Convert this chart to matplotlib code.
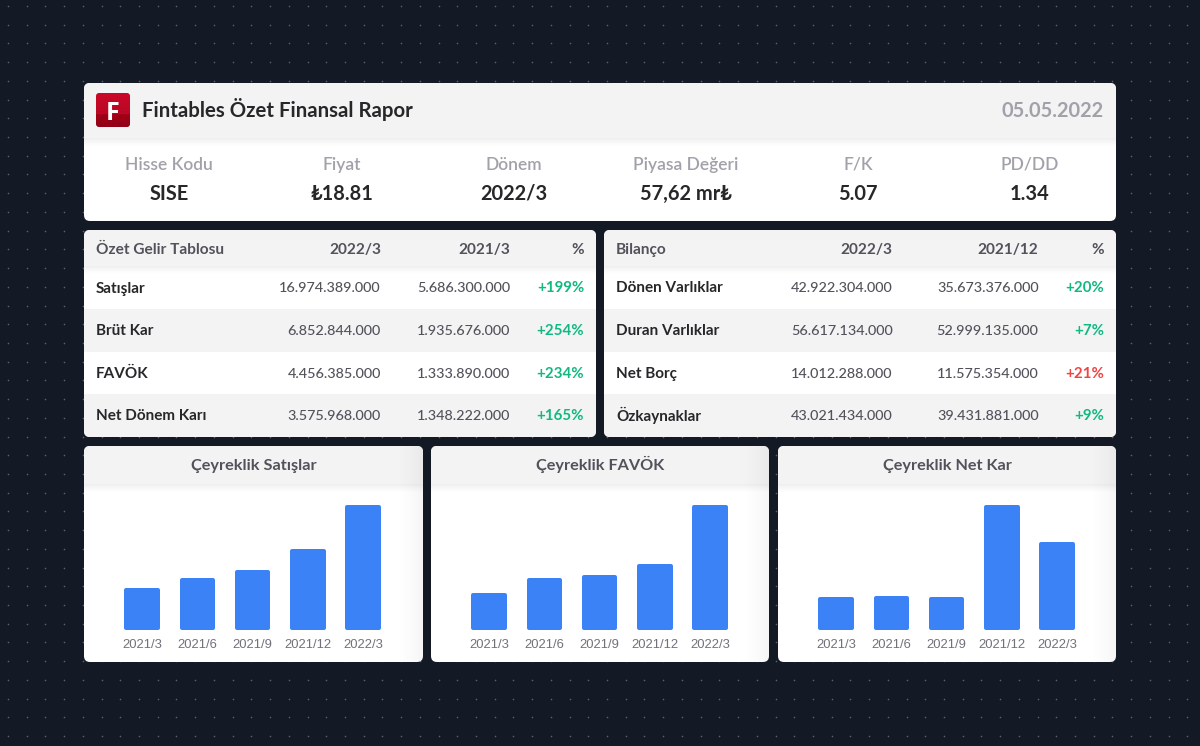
import numpy as np
import matplotlib
matplotlib.use("Agg")
import matplotlib.pyplot as plt
from matplotlib.patches import FancyBboxPatch, Rectangle

FONT = ['Lato', 'DejaVu Sans']
ARIAL = ['Liberation Sans', 'DejaVu Sans']

summary_labels = ["Hisse Kodu", "Fiyat", "Dönem", "Piyasa Değeri", "F/K", "PD/DD"]
summary_values = ["SISE", "₺18.81", "2022/3", "57,62 mr₺", "5.07", "1.34"]

income_headers = ["Özet Gelir Tablosu", "2022/3", "2021/3", "%"]
income_items = ["Satışlar", "Brüt Kar", "FAVÖK", "Net Dönem Karı"]
income_cur = ["16.974.389.000", "6.852.844.000", "4.456.385.000", "3.575.968.000"]
income_prev = ["5.686.300.000", "1.935.676.000", "1.333.890.000", "1.348.222.000"]
income_pct = ["+199%", "+254%", "+234%", "+165%"]

balance_headers = ["Bilanço", "2022/3", "2021/12", "%"]
balance_items = ["Dönen Varlıklar", "Duran Varlıklar", "Net Borç", "Özkaynaklar"]
balance_cur = ["42.922.304.000", "56.617.134.000", "14.012.288.000", "43.021.434.000"]
balance_prev = ["35.673.376.000", "52.999.135.000", "11.575.354.000", "39.431.881.000"]
balance_pct = ["+20%", "+7%", "+21%", "+9%"]
balance_pct_colors = ["#10b981", "#10b981", "#ef4444", "#10b981"]

quarters = ["2021/3", "2021/6", "2021/9", "2021/12", "2022/3"]
sales = [5686, 7060, 8150, 11000, 16974]
ebitda = [1334, 1855, 1960, 2350, 4456]
net_income = [1348, 1390, 1350, 5107, 3576]

BG = "#141926"
HEAD = "#f3f3f4"
ROW = "#f3f3f4"
DARK = "#27272a"
MID = "#52525b"
LIGHT = "#a1a1aa"
GREEN = "#10b981"
BLUE = "#3b82f6"

W, H = 1200, 746
fig = plt.figure(figsize=(W / 100, H / 100), dpi=100, facecolor=BG)
bg = fig.add_axes([0, 0, 1, 1])
bg.set_xlim(0, W)
bg.set_ylim(H, 0)
bg.axis("off")

px = lambda s: s * 0.72

dx = np.arange(8, W, 18.72)
dy = np.arange(6, H, 18.72)
gx, gy = np.meshgrid(dx, dy)
bg.scatter(gx.ravel(), gy.ravel(), s=1.4, c="#5a6070", linewidths=0, zorder=0)


def card(x0, y0, x1, y1, r=6):
    p = FancyBboxPatch((x0 + r, y0 + r), x1 - x0 - 2 * r, y1 - y0 - 2 * r,
                       boxstyle=f"round,pad={r},rounding_size={r}",
                       fc="white", ec="none", zorder=1)
    bg.add_patch(p)
    return p


def fill(x0, y0, x1, y1, color, clip, z=2):
    r = Rectangle((x0, y0), x1 - x0, y1 - y0, fc=color, ec="none", zorder=z)
    bg.add_patch(r)
    r.set_clip_path(clip)


def gradient(x0, y0, x1, y1, clip, amax=0.09, horizontal=False, z=3):
    n = 32
    ramp = np.linspace(amax, 0, n) ** 1.5 / amax ** 0.5
    if horizontal:
        a = ramp[::-1].reshape(1, n)
    else:
        a = ramp.reshape(n, 1)
    img = np.zeros(a.shape + (4,))
    img[..., 3] = a
    im = bg.imshow(img, extent=(x0, x1, y1, y0), aspect="auto", zorder=z,
                   interpolation="bilinear")
    im.set_clip_path(clip)
    bg.set_xlim(0, W)
    bg.set_ylim(H, 0)


def t(x, y, s, size, color, weight="normal", ha="left", family=FONT):
    bg.text(x, y, s, fontsize=px(size), color=color, fontweight=weight, ha=ha,
            va="baseline", family=family, zorder=6)


# ---- top card
top = card(84, 83, 1116, 221)
fill(84, 83, 1116, 138, HEAD, top)
gradient(84, 138, 1116, 148, top, 0.07)

# logo
logo = FancyBboxPatch((99, 96), 28, 28, boxstyle="round,pad=3,rounding_size=3",
                      fc="none", ec="none", zorder=4)
bg.add_patch(logo)
c = np.zeros((64, 1, 3))
stops_t = np.linspace(0, 1, 64)
c[:, 0, 0] = np.where(stops_t < 0.62, 0.80 - 0.12 * stops_t, 0.64 - 0.20 * (stops_t - 0.62))
c[:, 0, 1] = np.where(stops_t < 0.62, 0.03, 0.0)
c[:, 0, 2] = np.where(stops_t < 0.62, 0.15, 0.09)
im = bg.imshow(c, extent=(96, 130, 127, 93), aspect="auto", zorder=4)
im.set_clip_path(logo)
bg.set_xlim(0, W)
bg.set_ylim(H, 0)
t(113, 119.5, "F", 25, "white", "bold", "center", ['Open Sans', 'DejaVu Sans'])

t(142, 117, "Fintables Özet Finansal Rapor", 20.4, DARK, "bold")
t(1104, 117, "05.05.2022", 20, LIGHT, "bold", "right")

sum_x = [169, 342, 514, 686, 858, 1030]
for x, lab, val in zip(sum_x, summary_labels, summary_values):
    t(x, 170, lab, 17.4, LIGHT, 600, "center")
    t(x, 199.5, val, 20, DARK, "bold", "center")


# ---- tables
def table(x0, x1, cols, headers, items, cur, prev, pct, pct_colors):
    c_ = card(x0, 230, x1, 437)
    fill(x0, 230, x1, 266, HEAD, c_)
    fill(x0, 309, x1, 351.5, ROW, c_)
    fill(x0, 394, x1, 437, ROW, c_)
    gradient(x0, 266, x1, 275, c_, 0.07)
    t(x0 + 12, 254, headers[0], 15.4, MID, "bold")
    for cx, h in zip(cols, headers[1:]):
        t(cx, 254, h, 15.4, MID, "bold", "right")
    ys = [292.5, 335, 378, 420.5]
    for i, y in enumerate(ys):
        t(x0 + 12, y, items[i], 15.3, DARK, "bold")
        t(cols[0], y, cur[i], 14.4, MID, 500, "right")
        t(cols[1], y, prev[i], 14.4, MID, 500, "right")
        t(cols[2], y, pct[i], 15, pct_colors[i], "bold", "right")


table(84, 596, [381, 510, 584], income_headers, income_items, income_cur,
      income_prev, income_pct, [GREEN] * 4)
table(604, 1116, [892.5, 1038.5, 1104.5], balance_headers, balance_items, balance_cur,
      balance_prev, balance_pct, balance_pct_colors)


# ---- charts
def chart(x0, x1, title, values, first_center):
    c_ = card(x0, 446, x1, 662)
    fill(x0, 446, x1, 484, HEAD, c_)
    gradient(x0, 484, x1, 494, c_, 0.07)
    gradient(x1 - 30, 446, x1, 662, c_, 0.04, horizontal=True, z=2.5)
    t((x0 + x1) / 2, 470, title, 16.2, MID, "bold", "center")
    step = 55.3
    ax_l = first_center - step / 2
    ax_w = step * 5
    lw_px = 4
    top_px = 505
    base_px = 630
    ax = fig.add_axes([ax_l / W, 1 - base_px / H, ax_w / W, (base_px - top_px) / H])
    ax.patch.set_alpha(0)
    ax.set_xlim(-0.5, 4.5)
    ax.set_ylim(0, max(values))
    inset = (lw_px / 2) / (base_px - top_px) * max(values)
    heights = [v - 2 * inset for v in values]
    bars = ax.bar(range(5), heights, bottom=inset, width=(35.5 - lw_px) / step,
                  color=BLUE, edgecolor=BLUE, linewidth=px(lw_px), clip_on=False)
    for b in bars:
        b.set_joinstyle("round")
    ax.set_xticks(range(5))
    ax.set_xticklabels(quarters, family=ARIAL, fontsize=px(13), color="#71717a")
    ax.tick_params(axis="x", length=0, pad=px(9))
    ax.set_yticks([])
    for s in ax.spines.values():
        s.set_visible(False)


chart(84, 423, "Çeyreklik Satışlar", sales, 142)
chart(431, 769, "Çeyreklik FAVÖK", ebitda, 489)
chart(778, 1116, "Çeyreklik Net Kar", net_income, 836)

fig.savefig("out.png", dpi=100, facecolor=BG)
